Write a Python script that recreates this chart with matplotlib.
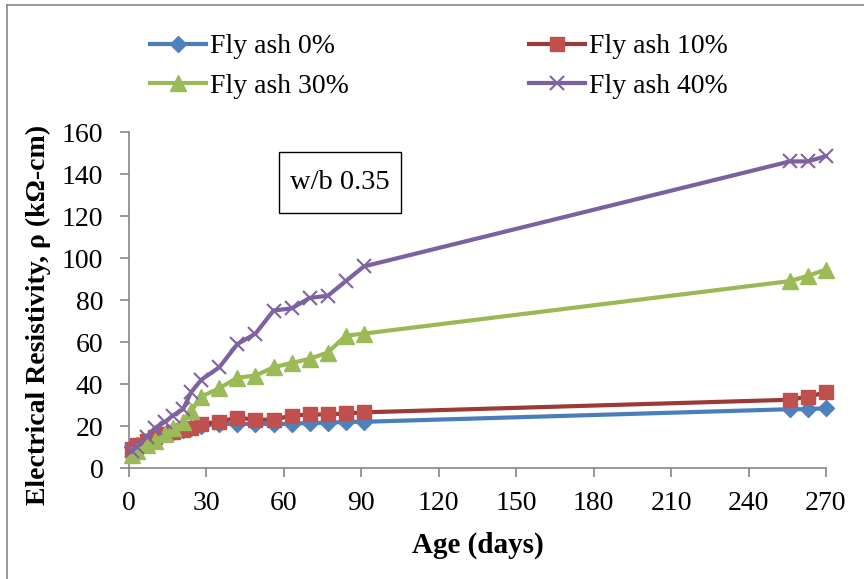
import matplotlib
matplotlib.use("Agg")
import matplotlib.pyplot as plt
from matplotlib.lines import Line2D
from matplotlib.patches import Rectangle

plt.rcParams['font.family'] = ['Liberation Serif', 'DejaVu Serif']

# Data
age = [1, 3, 7, 10, 14, 17, 21, 24, 28, 35, 42, 49, 56, 63, 70, 77, 84, 91, 256, 263, 270]
fa0 = [10, 11, 13, 14, 16, 17, 18, 19, 20, 21, 21, 21, 21, 21, 21.5, 21.5, 22, 22, 28, 28, 28.5]
fa10 = [9, 11, 13, 15, 16, 17, 18, 19, 21, 22, 24, 23, 23, 25, 25.5, 25.5, 26, 26.5, 32.5, 34, 36]
fa30 = [6, 8, 11, 13, 16, 19, 22, 27, 34, 38, 43, 44, 48, 50, 52, 55, 63, 64, 89, 91.5, 94.5]
fa40 = [8, 10, 15, 19, 22, 25, 28, 36, 42, 48, 59, 64, 75, 76, 81, 82, 89, 96, 146, 146, 148.5]

labels = ['Fly ash 0%', 'Fly ash 10%', 'Fly ash 30%', 'Fly ash 40%']
xticks = list(range(0, 271, 30))
yticks = list(range(0, 161, 20))

FS = 20

fig = plt.figure(figsize=(8.64, 5.79), dpi=100)
ax = fig.add_axes([129/864, 1 - 468/579, (826 - 129)/864, (468 - 132)/579])

styles = [
    dict(color='#4A7EBB', marker='D', ms=8, mfc='#4F81BD', mec='#4F81BD'),
    dict(color='#9B3A37', marker='s', ms=10.5, mfc='#C0504D', mec='#C0504D'),
    dict(color='#98B954', marker='^', ms=11, mfc='#9BBB59', mec='#9BBB59'),
    dict(color='#7D60A0', marker='x', ms=9.5, mfc='#8064A2', mec='#8064A2', mew=1.5),
]
series = [fa0, fa10, fa30, fa40]
handles = []
for vals, st, lab in zip(series, styles, labels):
    h, = ax.plot(age, vals, lw=3, clip_on=False, label=lab, zorder=3, **st)
    handles.append(h)

ax.set_xlim(0, 270)
ax.set_ylim(0, 160)
ax.set_xticks(xticks)
ax.set_yticks(yticks)
for s in ['top', 'right']:
    ax.spines[s].set_visible(False)
for s in ['left', 'bottom']:
    ax.spines[s].set_color('#868686')
    ax.spines[s].set_linewidth(1.2)
ax.tick_params(axis='both', direction='out', length=6.5, width=1.2, color='#868686',
               labelsize=FS, labelcolor='black')
ax.tick_params(axis='x', pad=10)
ax.tick_params(axis='y', pad=12)

ax.set_xlabel('Age (days)', fontsize=FS + 1, fontweight='bold')
ax.xaxis.label.set_va('center')
ax.xaxis.set_label_coords(0.5, (468 - 545) / 336)
ax.set_ylabel('Electrical Resistivity, ρ (kΩ-cm)', fontsize=FS, fontweight='bold')
ax.yaxis.label.set_va('center')
ax.yaxis.set_label_coords((38 - 129) / 697, (468 - 315) / 336)

ax.add_patch(Rectangle((0.2148, 0.759), 0.175, 0.181, transform=ax.transAxes,
                       fc='white', ec='black', lw=1, zorder=4))
ax.text(0.302, 0.85, 'w/b 0.35', fontsize=FS + 0.5, ha='center', va='center',
        transform=ax.transAxes, zorder=5)

order = [0, 2, 1, 3]
leg = fig.legend(handles=[handles[i] for i in order], labels=[labels[i] for i in order],
                 loc='upper left', bbox_to_anchor=(150/864, 1 - 34/579),
                 ncol=2, frameon=False, fontsize=FS, handlelength=2.0, handletextpad=0.15,
                 columnspacing=6.5, labelspacing=0.5, borderaxespad=0, borderpad=0)

# outer frame (left and top visible)
fig.add_artist(Line2D([7/864, 7/864], [0, 1 - 5/579], transform=fig.transFigure,
                      color='#868686', lw=1.2))
fig.add_artist(Line2D([7/864, 1], [1 - 5/579, 1 - 5/579], transform=fig.transFigure,
                      color='#868686', lw=1.2))

fig.savefig('out.png', dpi=100)
